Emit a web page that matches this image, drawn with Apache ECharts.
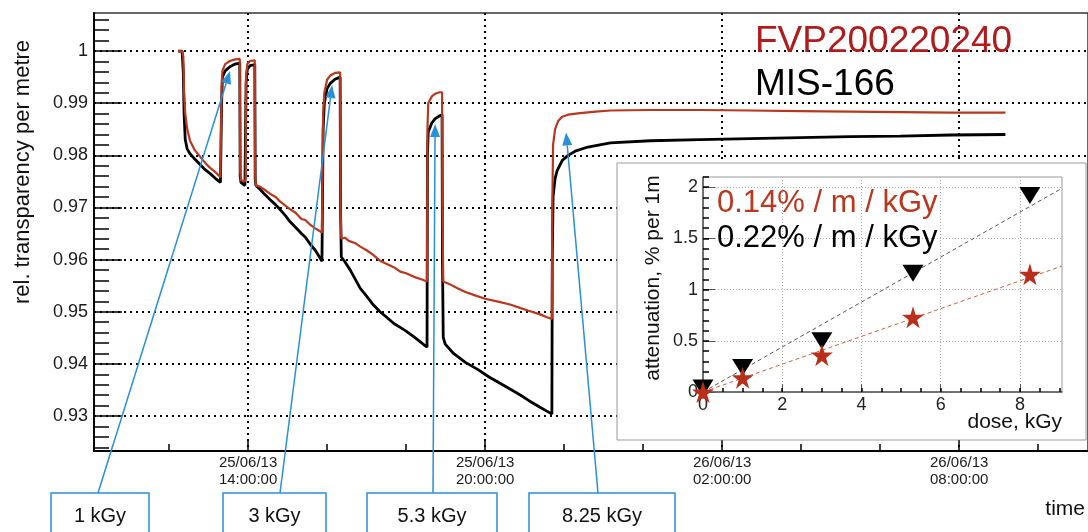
<!DOCTYPE html>
<html>
<head>
<meta charset="utf-8">
<script src="https://cdn.jsdelivr.net/npm/echarts@6/dist/echarts.min.js"></script>
<style>
  html, body { margin: 0; padding: 0; background: #fff; }
  #main { width: 1088px; height: 532px; }
</style>
</head>
<body>
<div id="main"></div>
<script>
// time in hours counted from 25/06/13 00:00
var redTime = [12.23, 12.33, 12.36, 12.38, 12.41, 12.46, 12.53, 12.65, 12.79, 12.92, 13.04, 13.17, 13.30, 13.32,
  13.33, 13.35, 13.42, 13.54, 13.67, 13.79, 13.80, 13.82, 13.92, 13.94, 13.95, 13.98, 14.05, 14.17, 14.18, 14.20,
  14.30, 14.40, 14.56, 14.70, 14.80, 14.95, 15.06, 15.20, 15.35, 15.45, 15.57, 15.70, 15.87, 15.89, 15.90, 15.93,
  16.00, 16.08, 16.20, 16.33, 16.34, 16.36, 16.45, 16.55, 16.70, 16.84, 17.00, 17.15, 17.34, 17.50, 17.70, 17.85,
  18.00, 18.20, 18.40, 18.53, 18.54, 18.56, 18.65, 18.73, 18.85, 18.91, 18.92, 18.94, 19.10, 19.30, 19.50, 19.80,
  20.00, 20.30, 20.63, 20.90, 21.10, 21.39, 21.55, 21.69, 21.70, 21.72, 21.77, 21.85, 21.95, 22.10, 22.40, 22.80,
  23.17, 24.18, 25.44, 26.70, 27.98, 29.24, 30.51, 31.80, 33.17]
var redTrans = [1.0000, 1.0000, 0.9990, 0.9920, 0.9880, 0.9850, 0.9828, 0.9810, 0.9797, 0.9785, 0.9776, 0.9768, 0.9758, 0.9760,
  0.9930, 0.9962, 0.9975, 0.9981, 0.9984, 0.9985, 0.9770, 0.9752, 0.9750, 0.9755, 0.9950, 0.9975, 0.9981, 0.9982, 0.9760, 0.9742,
  0.9740, 0.9735, 0.9726, 0.9720, 0.9712, 0.9703, 0.9697, 0.9690, 0.9678, 0.9676, 0.9667, 0.9660, 0.9652, 0.9650, 0.9880, 0.9920,
  0.9945, 0.9953, 0.9958, 0.9959, 0.9700, 0.9640, 0.9642, 0.9636, 0.9632, 0.9625, 0.9618, 0.9610, 0.9598, 0.9592, 0.9585, 0.9577,
  0.9574, 0.9567, 0.9562, 0.9558, 0.9850, 0.9900, 0.9913, 0.9918, 0.9921, 0.9921, 0.9700, 0.9558, 0.9553, 0.9545, 0.9538, 0.9530,
  0.9525, 0.9520, 0.9514, 0.9507, 0.9502, 0.9495, 0.9490, 0.9486, 0.9700, 0.9820, 0.9850, 0.9866, 0.9874, 0.9878, 0.9881, 0.9884,
  0.9886, 0.9887, 0.9887, 0.9886, 0.9885, 0.9884, 0.9883, 0.9882, 0.9882]

var blackTime = [12.23, 12.33, 12.36, 12.38, 12.41, 12.46, 12.53, 12.65, 12.79, 12.92, 13.04, 13.17, 13.30, 13.32,
  13.33, 13.35, 13.42, 13.54, 13.67, 13.79, 13.80, 13.82, 13.92, 13.94, 13.95, 13.98, 14.05, 14.17, 14.18, 14.20,
  14.30, 14.40, 14.56, 14.70, 14.80, 14.95, 15.06, 15.20, 15.35, 15.45, 15.57, 15.70, 15.80, 15.87, 15.89, 15.90,
  15.93, 16.00, 16.08, 16.20, 16.33, 16.34, 16.36, 16.45, 16.60, 16.84, 17.00, 17.15, 17.34, 17.50, 17.70, 17.85,
  18.00, 18.20, 18.40, 18.53, 18.54, 18.56, 18.65, 18.73, 18.85, 18.91, 18.92, 18.94, 18.99, 19.20, 19.50, 19.80,
  20.10, 20.40, 20.63, 20.90, 21.10, 21.39, 21.55, 21.69, 21.70, 21.72, 21.77, 21.82, 21.95, 22.10, 22.28, 22.60,
  23.17, 24.18, 25.44, 26.70, 27.98, 29.24, 30.51, 31.80, 33.17]
var blackTrans = [1.0000, 1.0000, 0.9960, 0.9880, 0.9830, 0.9812, 0.9803, 0.9793, 0.9782, 0.9772, 0.9765, 0.9756, 0.9748, 0.9745,
  0.9900, 0.9950, 0.9962, 0.9970, 0.9975, 0.9977, 0.9760, 0.9748, 0.9742, 0.9740, 0.9940, 0.9965, 0.9972, 0.9974, 0.9755, 0.9742,
  0.9735, 0.9727, 0.9715, 0.9705, 0.9697, 0.9684, 0.9673, 0.9662, 0.9650, 0.9643, 0.9630, 0.9618, 0.9606, 0.9597, 0.9595, 0.9850,
  0.9900, 0.9928, 0.9938, 0.9946, 0.9950, 0.9700, 0.9605, 0.9596, 0.9578, 0.9545, 0.9530, 0.9515, 0.9500, 0.9490, 0.9477, 0.9470,
  0.9463, 0.9452, 0.9440, 0.9432, 0.9800, 0.9845, 0.9862, 0.9870, 0.9876, 0.9878, 0.9600, 0.9451, 0.9438, 0.9420, 0.9403, 0.9390,
  0.9375, 0.9362, 0.9352, 0.9340, 0.9330, 0.9317, 0.9310, 0.9304, 0.9600, 0.9720, 0.9755, 0.9770, 0.9790, 0.9800, 0.9808, 0.9816,
  0.9824, 0.9828, 0.9830, 0.9832, 0.9834, 0.9836, 0.9837, 0.9839, 0.9840]

// inset: attenuation vs dose
var doses = [0, 1, 3, 5.3, 8.25]
var attMIS = [0.04, 0.24, 0.50, 1.16, 1.92]
var attFVP = [0.00, 0.14, 0.36, 0.73, 1.15]
var fitDose = [0, 9.06]
var fitMIS = [0, 1.99]
var fitFVP = [0, 1.23]

// ticks
var timeTicks = [14, 20, 26, 32]
var timeMinor = [12, 14, 16, 18, 20, 22, 24, 26, 28, 30, 32, 34]
var transTicks = [0.93, 0.94, 0.95, 0.96, 0.97, 0.98, 0.99, 1]
var transMinor = [0.924, 0.926, 0.928, 0.93, 0.932, 0.934, 0.936, 0.938, 0.94, 0.942, 0.944, 0.946, 0.948, 0.95,
  0.952, 0.954, 0.956, 0.958, 0.96, 0.962, 0.964, 0.966, 0.968, 0.97, 0.972, 0.974, 0.976, 0.978, 0.98, 0.982,
  0.984, 0.986, 0.988, 0.99, 0.992, 0.994, 0.996, 0.998, 1, 1.002, 1.004, 1.006]
var doseTicks = [0, 2, 4, 6, 8]
var doseMinor = [0, 0.5, 1, 1.5, 2, 2.5, 3, 3.5, 4, 4.5, 5, 5.5, 6, 6.5, 7, 7.5, 8, 8.5, 9]
var attTicks = [0, 0.5, 1, 1.5, 2]
var attMinor = [0, 0.1, 0.2, 0.3, 0.4, 0.5, 0.6, 0.7, 0.8, 0.9, 1, 1.1, 1.2, 1.3, 1.4, 1.5, 1.6, 1.7, 1.8, 1.9, 2, 2.1]

// dose annotations and the points the arrows go to
var arrowLabels = ['1 kGy', '3 kGy', '5.3 kGy', '8.25 kGy']
var arrowTime = [13.544, 16.127, 18.734, 22.05]
var arrowTrans = [0.9962, 0.9935, 0.9860, 0.9844]

var FONT = 'Liberation Sans, Arial, sans-serif'
var RED = '#b8371e'
var BLUE = '#2a8fd9'

function zip(a, b) {
  var out = []
  for (var i = 0; i < a.length; i++) out.push([a[i], b[i]])
  return out
}

function pad(n) { return n < 10 ? '0' + n : '' + n }

function timeLabel(h) {
  var day = 25 + Math.floor(h / 24)
  return day + '/06/13\n' + pad(h % 24) + ':00:00'
}

var mainRect = { left: 94, top: 13, width: 994, height: 438 }
var insetRect = { left: 703, top: 177, width: 359, height: 215 }

function minorAxis(gridIndex, min, max, values, len) {
  return {
    type: 'value', gridIndex: gridIndex, min: min, max: max,
    axisLine: { show: false },
    axisLabel: { show: false },
    splitLine: { show: false },
    axisTick: { inside: true, length: len, customValues: values, lineStyle: { color: '#000', width: 1.5 } }
  }
}

var chart = echarts.init(document.getElementById('main'))

var option = {
  animation: false,
  backgroundColor: '#fff',
  grid: [
    Object.assign({ show: true, borderColor: '#333', borderWidth: 1.5, z: 0 }, mainRect),
    Object.assign({ show: false }, mainRect),
    Object.assign({ show: true, borderColor: '#999', borderWidth: 1, backgroundColor: '#fff', z: 10 }, insetRect),
    Object.assign({ show: false, z: 10 }, insetRect)
  ],
  xAxis: [
    {
      type: 'value', gridIndex: 0, min: 10.10, max: 35.26,
      axisLine: { lineStyle: { color: '#000', width: 2 } },
      axisTick: { inside: true, length: 12, customValues: timeTicks, lineStyle: { color: '#000', width: 1.5 } },
      axisLabel: {
        customValues: timeTicks, formatter: timeLabel, margin: 3,
        fontFamily: FONT, fontSize: 15, lineHeight: 17, color: '#1a1a1a'
      },
      splitLine: { show: true, lineStyle: { color: '#000', width: 2, type: [2, 4] } }
    },
    minorAxis(1, 10.10, 35.26, timeMinor, 7),
    {
      type: 'value', gridIndex: 2, min: 0, max: 9.06, z: 10,
      axisLine: { lineStyle: { color: '#555', width: 1.5 } },
      axisTick: { inside: true, length: 8, customValues: doseTicks, lineStyle: { color: '#555' } },
      axisLabel: { customValues: doseTicks, margin: 4, fontFamily: FONT, fontSize: 18, color: '#222' },
      splitLine: { show: true, lineStyle: { color: '#aaa', width: 1, type: [1, 2] } }
    },
    Object.assign(minorAxis(3, 0, 9.06, doseMinor, 4), { z: 10 })
  ],
  yAxis: [
    {
      type: 'value', gridIndex: 0, min: 0.9233, max: 1.0073,
      axisLine: { lineStyle: { color: '#000', width: 2 } },
      axisTick: { inside: true, length: 28, customValues: transTicks, lineStyle: { color: '#000', width: 1.5 } },
      axisLabel: { customValues: transTicks, margin: 6, fontFamily: FONT, fontSize: 18, color: '#1a1a1a' },
      splitLine: { show: true, lineStyle: { color: '#000', width: 2, type: [2, 4] } }
    },
    minorAxis(1, 0.9233, 1.0073, transMinor, 15),
    {
      type: 'value', gridIndex: 2, min: 0, max: 2.1, z: 10,
      axisLine: { lineStyle: { color: '#555', width: 1.5 } },
      axisTick: { inside: true, length: 12, customValues: attTicks, lineStyle: { color: '#555' } },
      axisLabel: { customValues: attTicks, margin: 5, fontFamily: FONT, fontSize: 18, color: '#222' },
      splitLine: { show: true, lineStyle: { color: '#aaa', width: 1, type: [1, 2] } }
    },
    Object.assign(minorAxis(3, 0, 2.1, attMinor, 6), { z: 10 })
  ],
  series: [
    {
      name: 'MIS-166', type: 'line', xAxisIndex: 0, yAxisIndex: 0, z: 3,
      data: zip(blackTime, blackTrans), showSymbol: false,
      lineStyle: { color: '#000', width: 2.8 }
    },
    {
      name: 'FVP200220240', type: 'line', xAxisIndex: 0, yAxisIndex: 0, z: 4,
      data: zip(redTime, redTrans), showSymbol: false,
      lineStyle: { color: RED, width: 2.2 }
    },
    {
      type: 'line', xAxisIndex: 2, yAxisIndex: 2, z: 11, showSymbol: false,
      data: zip(fitDose, fitMIS), lineStyle: { color: '#555', width: 1, type: [4, 3] }
    },
    {
      type: 'line', xAxisIndex: 2, yAxisIndex: 2, z: 11, showSymbol: false,
      data: zip(fitDose, fitFVP), lineStyle: { color: '#d06040', width: 1, type: [4, 3] }
    },
    {
      type: 'scatter', xAxisIndex: 2, yAxisIndex: 2, z: 12,
      data: zip(doses, attMIS), symbol: 'triangle', symbolRotate: 180, symbolSize: [21, 17],
      itemStyle: { color: '#000', opacity: 1 }
    },
    {
      type: 'scatter', xAxisIndex: 2, yAxisIndex: 2, z: 13,
      data: zip(doses, attFVP),
      symbol: 'path://M50,0 L61,35 L98,35 L68,57 L79,91 L50,70 L21,91 L32,57 L2,35 L39,35 Z',
      symbolSize: 22, itemStyle: { color: '#b8301c', opacity: 1 }
    }
  ]
}

chart.setOption(option)

function textEl(x, y, text, size, color, extra) {
  var el = {
    type: 'text', x: x, y: y, z: 20,
    style: { text: text, font: size + 'px ' + FONT, fill: color, align: 'left', verticalAlign: 'middle' }
  }
  if (extra) {
    for (var k in extra) {
      if (k === 'style') Object.assign(el.style, extra.style)
      else el[k] = extra[k]
    }
  }
  return el
}

// annotation boxes (bottom) and arrows up to the curves
var boxes = [[51, 98], [223, 103], [367, 130], [529, 146]]
var anchors = [98, 280, 433, 598]

var els = [
  { type: 'rect', z: 5, shape: { x: 617, y: 163, width: 469, height: 277 }, style: { fill: '#fff', stroke: '#999', lineWidth: 1 } },
  textEl(755, 42, 'FVP200220240', 37, '#b01c1c'),
  textEl(755, 85, 'MIS-166', 37, '#000'),
  textEl(1085, 509, 'time', 21, '#111', { style: { align: 'right' } }),
  textEl(23, 172, 'rel. transparency per metre', 22, '#111', { rotation: Math.PI / 2, style: { align: 'center' } }),
  textEl(653, 278, 'attenuation, % per 1m', 21, '#111', { rotation: Math.PI / 2, style: { align: 'center' } }),
  textEl(1062, 422, 'dose, kGy', 21, '#111', { style: { align: 'right' } }),
  textEl(717, 203, '0.14% / m / kGy', 31, RED),
  textEl(717, 238, '0.22% / m / kGy', 31, '#000')
]

for (var i = 0; i < arrowLabels.length; i++) {
  els.push({ type: 'rect', z: 20, shape: { x: boxes[i][0], y: 493, width: boxes[i][1], height: 50 },
    style: { fill: '#fff', stroke: BLUE, lineWidth: 1.5 } })
  els.push(textEl(boxes[i][0] + boxes[i][1] / 2, 516, arrowLabels[i], 20, '#111', { style: { align: 'center' } }))

  var tip = chart.convertToPixel({ gridIndex: 0 }, [arrowTime[i], arrowTrans[i]])
  var sx = anchors[i], sy = 493
  var dx = tip[0] - sx, dy = tip[1] - sy
  var len = Math.sqrt(dx * dx + dy * dy)
  var ux = dx / len, uy = dy / len
  var bx = tip[0] - ux * 13, by = tip[1] - uy * 13
  els.push({ type: 'line', z: 20, shape: { x1: sx, y1: sy, x2: bx, y2: by }, style: { stroke: BLUE, lineWidth: 1.5 } })
  els.push({ type: 'polygon', z: 20,
    shape: { points: [[tip[0], tip[1]], [bx - uy * 5, by + ux * 5], [bx + uy * 5, by - ux * 5]] },
    style: { fill: BLUE } })
}

chart.setOption({ graphic: { elements: els } })
</script>
</body>
</html>
